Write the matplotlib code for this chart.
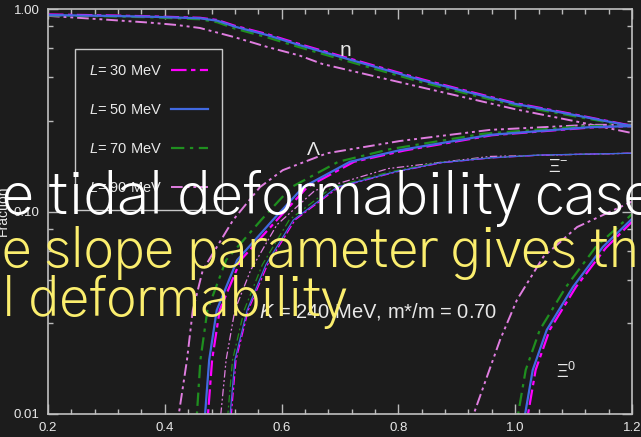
import matplotlib
matplotlib.use("Agg")
import matplotlib.pyplot as plt
from matplotlib.ticker import FixedLocator, FixedFormatter

# Colours
bg = '#1c1c1c'
fg = '#e8e8e8'
c30 = '#ff00ff'
c50 = '#4169e1'
c70 = '#1f8f1f'
c90 = '#e07de0'

# neutron fraction, L = 30/50/70 share the x grid
n_x = [0.2, 0.3, 0.375, 0.46, 0.49, 0.52, 0.575, 0.63, 0.67, 0.75, 0.84, 0.92, 1.0, 1.1, 1.2]
n_30 = [0.94, 0.93, 0.92, 0.905, 0.882, 0.826, 0.752, 0.672, 0.622, 0.534, 0.45, 0.392, 0.343, 0.302, 0.265]
n_50 = [0.934, 0.925, 0.916, 0.9, 0.875, 0.818, 0.744, 0.664, 0.615, 0.528, 0.445, 0.388, 0.34, 0.30, 0.264]
n_70 = [0.93, 0.92, 0.91, 0.89, 0.86, 0.80, 0.725, 0.648, 0.60, 0.515, 0.435, 0.38, 0.334, 0.296, 0.262]
n_x_90 = [0.2, 0.29, 0.375, 0.42, 0.46, 0.52, 0.575, 0.63, 0.67, 0.84, 1.0, 1.1, 1.2]
n_90 = [0.925, 0.89, 0.856, 0.834, 0.806, 0.725, 0.65, 0.59, 0.535, 0.41, 0.32, 0.28, 0.244]

# Lambda
lam_x_30 = [0.472, 0.474, 0.481, 0.494, 0.530, 0.592, 0.644, 0.724, 0.81, 0.96, 1.13, 1.2]
lam_30 = [0.008, 0.01, 0.0185, 0.0326, 0.0576, 0.0908, 0.132, 0.176, 0.200, 0.238, 0.26, 0.264]
lam_x_50 = [0.467, 0.469, 0.476, 0.489, 0.524, 0.585, 0.637, 0.717, 0.803, 0.957, 1.128, 1.2]
lam_50 = [0.008, 0.01, 0.0185, 0.0326, 0.0576, 0.0908, 0.132, 0.176, 0.201, 0.239, 0.261, 0.264]
lam_x_70 = [0.453, 0.455, 0.461, 0.473, 0.505, 0.565, 0.617, 0.697, 0.785, 0.945, 1.12, 1.2]
lam_70 = [0.008, 0.01, 0.0185, 0.0326, 0.0576, 0.0908, 0.132, 0.176, 0.203, 0.242, 0.264, 0.266]
lam_x_90 = [0.422, 0.424, 0.438, 0.448, 0.465, 0.517, 0.563, 0.602, 0.678, 0.803, 0.957, 1.128, 1.2]
lam_90 = [0.008, 0.01, 0.0185, 0.0326, 0.0513, 0.0908, 0.132, 0.160, 0.194, 0.223, 0.253, 0.268, 0.268]

# Xi-
xim_x_30 = [0.512, 0.514, 0.522, 0.543, 0.576, 0.623, 0.698, 0.797, 0.874, 0.96, 1.045, 1.2]
xim_x_50 = [0.510, 0.512, 0.520, 0.541, 0.573, 0.620, 0.695, 0.794, 0.871, 0.957, 1.042, 1.2]
xim_x_70 = [0.506, 0.508, 0.516, 0.536, 0.567, 0.613, 0.687, 0.786, 0.865, 0.952, 1.04, 1.2]
xim_y = [0.008, 0.01, 0.0185, 0.0326, 0.0546, 0.0908, 0.132, 0.157, 0.174, 0.184, 0.190, 0.194]
xim_x_90 = [0.494, 0.496, 0.505, 0.520, 0.547, 0.592, 0.657, 0.783, 0.957, 1.2]
xim_90 = [0.008, 0.01, 0.0185, 0.0326, 0.0513, 0.086, 0.127, 0.163, 0.187, 0.194]

# Xi0
xi0_x_30 = [1.020, 1.022, 1.035, 1.059, 1.104, 1.155, 1.2]
xi0_30 = [0.008, 0.01, 0.0165, 0.026, 0.0424, 0.0660, 0.089]
xi0_x_50 = [1.015, 1.017, 1.030, 1.054, 1.099, 1.150, 1.2]
xi0_50 = [0.008, 0.01, 0.0165, 0.026, 0.0424, 0.0668, 0.092]
xi0_x_70 = [1.003, 1.005, 1.018, 1.042, 1.087, 1.138, 1.2]
xi0_70 = [0.008, 0.01, 0.0165, 0.026, 0.0424, 0.0668, 0.097]
xi0_x_90 = [0.927, 0.929, 0.974, 1.003, 1.048, 1.106, 1.2]
xi0_90 = [0.008, 0.01, 0.0232, 0.0366, 0.0596, 0.0838, 0.112]

x_major = [0.2, 0.4, 0.6, 0.8, 1.0, 1.2]
x_labels = ['0.2', '0.4', '0.6', '0.8', '1.0', '1.2']
y_major = [0.01, 0.1, 1.0]
y_labels = ['0.01', '0.10', '1.00']
y_minor = [0.028, 0.046, 0.064, 0.082, 0.28, 0.46, 0.64, 0.82]

plt.rcParams['font.family'] = ['Liberation Sans', 'DejaVu Sans']
plt.rcParams['mathtext.fontset'] = 'custom'
plt.rcParams['mathtext.rm'] = 'Liberation Sans'
plt.rcParams['mathtext.it'] = 'Liberation Sans:italic'

ls30 = (0, (7, 2, 2, 2))
ls70 = (0, (6, 2.5, 1.5, 2.5))
ls90 = (0, (6, 2, 1.5, 2, 1.5, 2))

fig = plt.figure(figsize=(6.41, 4.37), dpi=100, facecolor=bg)
ax = fig.add_axes([48 / 641, 23 / 437, 584 / 641, 405 / 437])
ax.set_facecolor(bg)
ax.set_yscale('log')

lw = 1.6
thin = 0.9
# L = 90
ax.plot(n_x_90, n_90, color=c90, ls=ls90, lw=1.4, label=r'$L$= 90 MeV')
ax.plot(lam_x_90, lam_90, color=c90, ls=ls90, lw=1.4)
ax.plot(xim_x_90, xim_90, color=c90, ls=ls90, lw=thin)
ax.plot(xi0_x_90, xi0_90, color=c90, ls=ls90, lw=1.4)
# L = 70
ax.plot(n_x, n_70, color=c70, ls=ls70, lw=lw, label=r'$L$= 70 MeV')
ax.plot(lam_x_70, lam_70, color=c70, ls=ls70, lw=lw)
ax.plot(xim_x_70, xim_y, color=c70, ls=ls70, lw=thin)
ax.plot(xi0_x_70, xi0_70, color=c70, ls=ls70, lw=lw)
# L = 30
ax.plot(n_x, n_30, color=c30, ls=ls30, lw=lw, label=r'$L$= 30 MeV')
ax.plot(lam_x_30, lam_30, color=c30, ls=ls30, lw=lw)
ax.plot(xim_x_30, xim_y, color=c30, ls=ls30, lw=thin)
ax.plot(xi0_x_30, xi0_30, color=c30, ls=ls30, lw=lw)
# L = 50
ax.plot(n_x, n_50, color=c50, ls='-', lw=lw, label=r'$L$= 50 MeV')
ax.plot(lam_x_50, lam_50, color=c50, ls='-', lw=lw)
ax.plot(xim_x_50, xim_y, color=c50, ls='-', lw=thin)
ax.plot(xi0_x_50, xi0_50, color=c50, ls='-', lw=lw)

ax.set_xlim(0.2, 1.2)
ax.set_ylim(0.01, 1.0)

ax.xaxis.set_major_locator(FixedLocator(x_major))
ax.xaxis.set_major_formatter(FixedFormatter(x_labels))
ax.xaxis.set_minor_locator(FixedLocator([0.2 + 0.04 * i for i in range(26)]))
ax.yaxis.set_major_locator(FixedLocator(y_major))
ax.yaxis.set_major_formatter(FixedFormatter(y_labels))
ax.yaxis.set_minor_locator(FixedLocator(y_minor))
ax.yaxis.set_minor_formatter(FixedFormatter([''] * len(y_minor)))

ax.tick_params(which='both', direction='in', top=True, right=True,
               color='#bbbbbb', labelcolor=fg, labelsize=9.5, width=1)
ax.tick_params(which='major', length=7, pad=6)
ax.tick_params(which='minor', length=3.5)
for s in ax.spines.values():
    s.set_color('#c0c0c0')
    s.set_linewidth(1.2)

# legend in order 30, 50, 70, 90
h, l = ax.get_legend_handles_labels()
order = [2, 3, 1, 0]
leg = ax.legend([h[i] for i in order], [l[i] for i in order],
                loc='upper left', bbox_to_anchor=(0.046, 0.901), borderaxespad=0,
                markerfirst=False, fontsize=10.5, labelspacing=1.72,
                handlelength=2.5, handletextpad=0.6, borderpad=1.0,
                fancybox=False, framealpha=1, facecolor=bg, edgecolor='#c8c8c8')
leg.get_frame().set_linewidth(1)
for t in leg.get_texts():
    t.set_color(fg)

ax.text(0.71, 0.627, 'n', color=fg, fontsize=15, ha='center', va='center')
ax.text(0.654, 0.201, r'$\Lambda$', color=fg, fontsize=14, ha='center', va='center')
ax.text(1.056, 0.164, r'$\Xi^{-}$', color=fg, fontsize=13, ha='left', va='center')
ax.text(1.07, 0.0161, r'$\Xi^{0}$', color=fg, fontsize=13, ha='left', va='center')
ax.text(0.561, 0.0319, r'$K$ = 240 MeV, m*/m = 0.70', color=fg, fontsize=14.5,
        ha='left', va='center')

fig.text(3 / 641, 1 - 211 / 437, 'Fraction', rotation=90, color=fg, fontsize=10,
         ha='center', va='center')

# subtitle overlay
sub = dict(family=['Gothic A1', 'DejaVu Sans'], weight=300,
           ha='left', va='baseline')
fig.text(2 / 641, 1 - 214 / 437, 'e tidal deformability case', color='#ffffff',
         fontsize=42, **sub)
fig.text(2 / 641, 1 - 267 / 437, 'e slope parameter gives th', color='#fbee6e',
         fontsize=39, **sub)
fig.text(2 / 641, 1 - 316 / 437, 'l deformability', color='#fbee6e',
         fontsize=39, **sub)

fig.savefig('out.png', dpi=100, facecolor=bg)
